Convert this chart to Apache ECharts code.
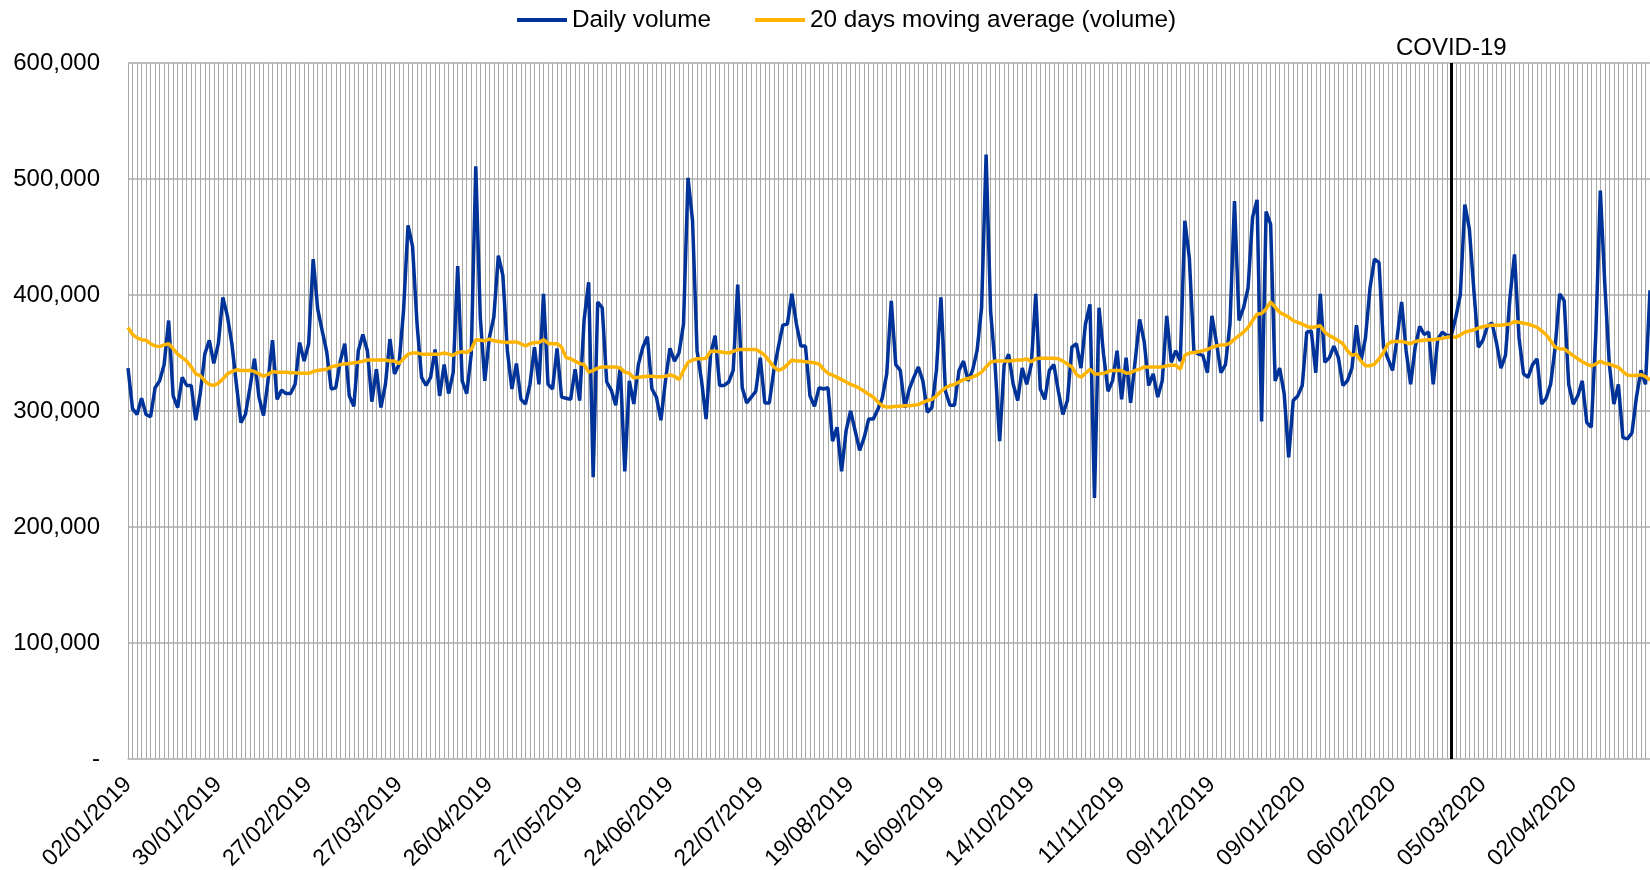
<!DOCTYPE html>
<html><head><meta charset="utf-8">
<script src="https://cdn.jsdelivr.net/npm/echarts@6/dist/echarts.min.js"></script>
<style>html,body{margin:0;padding:0;background:#fff}#c{width:1650px;height:870px}</style>
</head><body><div id="c"></div>
<script>
// Trading days (TARGET calendar) from 02/01/2019 to 29/04/2020
const startDate = '2019-01-02';
const endDate = '2020-04-29';
const closedDays = ['2019-04-19','2019-04-22','2019-05-01','2019-12-25','2019-12-26','2020-01-01','2020-04-10','2020-04-13'];
function buildTradingDays(){
  const out = [];
  const d = new Date(startDate + 'T12:00:00Z');
  const end = new Date(endDate + 'T12:00:00Z');
  while (d <= end) {
    const iso = d.toISOString().slice(0,10);
    const wd = d.getUTCDay();
    if (wd !== 0 && wd !== 6 && closedDays.indexOf(iso) < 0) {
      out.push(iso.slice(8,10) + '/' + iso.slice(5,7) + '/' + iso.slice(0,4));
    }
    d.setUTCDate(d.getUTCDate() + 1);
  }
  return out;
}
const dates = buildTradingDays();

const dailyVolume = [
337000,302000,297000,311000,297000,295000,320000,326000,340000,378000,
313000,303000,329000,322000,322000,292000,315000,349000,361000,341000,
358000,398000,382000,358000,323000,290000,297000,320000,345000,312000,
296000,326000,361000,310000,318000,315000,315000,323000,359000,343000,
358000,431000,388000,369000,351000,319000,320000,343000,358000,313000,
304000,352000,366000,352000,308000,336000,303000,323000,362000,332000,
340000,386000,460000,442000,375000,329000,322000,329000,353000,313000,
340000,315000,333000,425000,326000,315000,349000,511000,381000,326000,
363000,381000,434000,417000,352000,319000,341000,310000,306000,323000,
355000,323000,401000,323000,319000,354000,312000,311000,310000,336000,
309000,379000,411000,243000,394000,389000,325000,318000,305000,338000,
248000,326000,306000,340000,355000,364000,319000,312000,292000,326000,
354000,343000,350000,375000,501000,464000,352000,326000,293000,349000,
365000,322000,322000,325000,335000,409000,320000,307000,312000,317000,
346000,307000,307000,335000,355000,374000,375000,401000,375000,356000,
356000,313000,304000,320000,319000,320000,274000,286000,248000,283000,
300000,283000,266000,277000,293000,293000,301000,311000,332000,395000,
340000,335000,303000,319000,329000,338000,326000,299000,303000,335000,
398000,317000,305000,305000,335000,343000,326000,335000,352000,389000,
521000,386000,339000,274000,340000,349000,323000,309000,337000,323000,
340000,401000,319000,310000,335000,340000,317000,297000,309000,355000,
358000,337000,375000,392000,225000,389000,349000,317000,326000,352000,
310000,346000,307000,343000,379000,360000,322000,332000,312000,326000,
382000,342000,352000,343000,464000,432000,352000,349000,348000,333000,
382000,359000,333000,340000,375000,481000,378000,389000,406000,467000,
482000,291000,472000,461000,326000,337000,315000,260000,309000,313000,
322000,368000,369000,333000,401000,342000,346000,356000,346000,322000,
326000,337000,374000,343000,363000,406000,431000,428000,355000,345000,
335000,363000,394000,352000,323000,355000,373000,366000,368000,323000,
362000,368000,365000,365000,381000,400000,478000,457000,404000,355000,
361000,373000,376000,359000,337000,348000,398000,435000,363000,332000,
329000,340000,345000,306000,311000,323000,355000,401000,395000,323000,
306000,313000,326000,290000,286000,366000,490000,409000,340000,306000,
323000,277000,276000,281000,312000,335000,323000,404000
];

const movingAverage20 = [
372000,366000,363000,361500,361000,358000,356000,355500,357000,358000,
353500,349000,346000,343000,338000,332000,330500,326000,323000,322000,
324000,327500,332000,334000,335500,335000,335000,335000,334000,332000,
330000,331500,334000,333500,333500,333500,333000,333000,332500,332500,
332500,334000,335000,335500,336000,338000,339000,340000,340500,341000,
341500,342000,343000,344000,344000,344000,344000,344000,343000,343000,
341000,345000,349000,350000,350000,349000,349000,349000,349000,349000,
350000,349000,348000,350500,351000,350500,353000,361500,361000,360500,
362000,360500,360000,359500,359000,359500,359500,358000,356000,358000,
359000,359000,361500,358500,358000,358000,355000,346000,345000,343000,
341000,340000,333500,335000,337000,338000,338000,338000,338000,337000,
333500,332500,328500,329000,329500,330000,330000,329500,329500,330000,
331000,330000,327000,335000,342000,344000,345000,345000,345500,351500,
351500,351000,350500,350000,351500,353000,353000,353000,353000,353000,
351000,348000,343000,338000,335000,336500,340000,344000,343000,343000,
342500,342000,341500,340500,336000,332500,331000,329000,327000,325000,
323000,321500,319500,317000,314500,312000,308000,304500,303500,303500,
304000,304000,304500,304500,305000,305500,307500,309000,310000,313000,
317000,320000,322000,323000,325000,327000,328000,329500,331000,333500,
338000,342000,343000,343000,343000,343000,343500,344000,344000,345000,
342500,345000,345500,345500,345500,345500,345000,343000,340500,338000,
331500,329000,332500,336000,332000,332000,332500,334000,335000,335000,
335000,332500,333000,335000,336000,338000,338000,338000,338000,338000,
339000,339500,339500,336000,348000,350000,350500,351000,352000,353000,
355000,356000,357000,357000,358500,362000,365000,368000,372000,378000,
383500,384000,388000,394000,389500,385000,383000,381000,378000,376500,
375000,373000,372000,372700,373500,368000,365000,363000,360500,358000,
352000,348000,349000,343000,339000,339000,340500,345000,350500,358000,
360000,360000,360000,359000,358000,360000,360500,361000,361500,361500,
362000,362600,363500,364000,363500,365500,368000,369000,370000,371500,
372700,373500,374000,374000,374000,374500,375000,377000,376500,375600,
375000,373500,372000,369000,365800,360500,355000,353500,353500,350600,
347700,345000,342500,340500,339000,340500,343000,341000,340500,339000,
337600,334000,331000,330500,330500,331300,329600,326700
];

const yTickValues = [0, 100000, 200000, 300000, 400000, 500000, 600000];
const covidDate = '25/02/2020';
const seriesNames = ['Daily volume', '20 days moving average (volume)'];

const FONT = 'Liberation Sans, Arial, sans-serif';
const chart = echarts.init(document.getElementById('c'));
chart.setOption({
  animation: false,
  backgroundColor: '#ffffff',
  textStyle: { fontFamily: FONT },
  legend: {
    left: 512, top: 3,
    itemWidth: 50, itemHeight: 4, itemGap: 44,
    icon: 'rect',
    textStyle: { fontSize: 24.3, color: '#000', fontFamily: FONT },
    data: seriesNames
  },
  grid: { left: 128, right: 0, top: 63, bottom: 111, containLabel: false, outerBoundsMode: 'none' },
  xAxis: {
    type: 'category',
    data: dates,
    boundaryGap: false,
    axisLine: { show: true, lineStyle: { color: '#bfbfbf', width: 1.5 } },
    axisTick: { show: false },
    axisLabel: { interval: 19, rotate: 45, fontSize: 23, color: '#000', margin: 22, fontFamily: FONT },
    splitLine: { show: true, interval: 0, lineStyle: { color: '#a9a9a9', width: 1 } }
  },
  yAxis: {
    type: 'value',
    min: yTickValues[0], max: yTickValues[yTickValues.length - 1], interval: 100000,
    axisLine: { show: false },
    axisTick: { show: false },
    axisLabel: {
      fontSize: 24, color: '#000', margin: 28, fontFamily: FONT,
      formatter: v => v === 0 ? '-' : v.toLocaleString('en-US')
    },
    splitLine: { show: true, lineStyle: { color: '#ababab', width: 1.5 } }
  },
  series: [
    {
      name: seriesNames[0], type: 'line', data: dailyVolume,
      showSymbol: false, symbol: 'none',
      lineStyle: { color: '#003399', width: 3.5 },
      itemStyle: { color: '#003399' },
      markLine: {
        silent: true, symbol: ['none', 'none'], animation: false,
        lineStyle: { color: '#000', width: 3, type: 'solid' },
        label: { show: true, position: 'end', formatter: 'COVID-19', fontSize: 24, color: '#000', distance: 3, fontFamily: FONT },
        data: [{ xAxis: covidDate }]
      }
    },
    {
      name: seriesNames[1], type: 'line', data: movingAverage20,
      showSymbol: false, symbol: 'none',
      lineStyle: { color: '#FFB400', width: 3.5 },
      itemStyle: { color: '#FFB400' }
    }
  ]
});
</script>
</body></html>
